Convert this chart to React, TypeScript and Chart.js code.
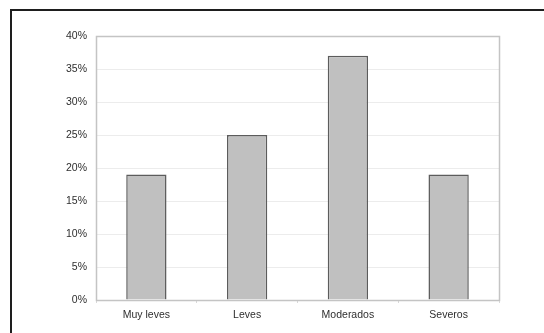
import React, { useEffect, useRef } from "react";
import { Chart, registerables } from "chart.js";

Chart.register(...registerables);

const categories = ["Muy leves", "Leves", "Moderados", "Severos"];
const shares = [19, 25, 37, 19];
const yTicks = [0, 5, 10, 15, 20, 25, 30, 35, 40];

const FONT = "'Liberation Sans', Arial, sans-serif";

// Outer black frame and the light plot-area box.
const framePlugin = {
  id: "frame",
  beforeDraw(chart: any) {
    const { ctx } = chart;
    ctx.save();
    ctx.fillStyle = "#ffffff";
    ctx.fillRect(0, 0, chart.width, chart.height);
    ctx.strokeStyle = "#1e1e1e";
    ctx.lineWidth = 2;
    ctx.beginPath();
    ctx.moveTo(11, chart.height + 5);
    ctx.lineTo(11, 10);
    ctx.lineTo(chart.width + 5, 10);
    ctx.stroke();
    ctx.restore();
  },
  afterDatasetsDraw(chart: any) {
    const { ctx, chartArea: a } = chart;
    ctx.save();
    ctx.strokeStyle = "#c4c4c4";
    ctx.lineWidth = 1.5;
    ctx.strokeRect(Math.round(a.left) + 0.5, Math.round(a.top) + 0.5, Math.round(a.right - a.left), Math.round(a.bottom - a.top));
    ctx.restore();
  },
};

export default function App() {
  const ref = useRef<HTMLCanvasElement>(null);

  useEffect(() => {
    if (!ref.current) return;
    const chart = new Chart(ref.current, {
      type: "bar",
      data: {
        labels: categories,
        datasets: [
          {
            data: shares,
            backgroundColor: "#c0c0c0",
            borderColor: "#5c5c5c",
            borderWidth: 1.5,
            categoryPercentage: 1,
            barPercentage: 0.4,
          },
        ],
      },
      options: {
        animation: false,
        responsive: false,
        events: [],
        layout: { padding: { left: 0, right: 45, top: 36, bottom: 0 } },
        plugins: { legend: { display: false }, tooltip: { enabled: false } },
        scales: {
          x: {
            grid: {
              display: true,
              drawOnChartArea: false,
              drawTicks: true,
              tickLength: 3,
              offset: true,
              color: "#d8d8d8",
            },
            border: { display: false },
            ticks: {
              color: "#2e2e2e",
              padding: 6,
              font: { family: FONT, size: 10.5 },
            },
            afterFit(scale: any) {
              scale.height = 33;
            },
          },
          y: {
            min: 0,
            max: 40,
            afterBuildTicks(scale: any) {
              scale.ticks = yTicks.map((v) => ({ value: v }));
            },
            grid: { color: "#ececec", drawTicks: false },
            border: { display: false },
            ticks: {
              color: "#2e2e2e",
              padding: 9,
              font: { family: FONT, size: 10.5 },
              callback: (v: any) => `${v}%`,
            },
            afterFit(scale: any) {
              scale.width = 96;
            },
          },
        },
      },
      plugins: [framePlugin],
    });
    return () => chart.destroy();
  }, []);

  return (
    <div style={{ position: "fixed", left: 0, top: 0, width: 544, height: 333, background: "#fff" }}>
      <canvas ref={ref} width={544} height={333} style={{ display: "block" }} />
    </div>
  );
}
